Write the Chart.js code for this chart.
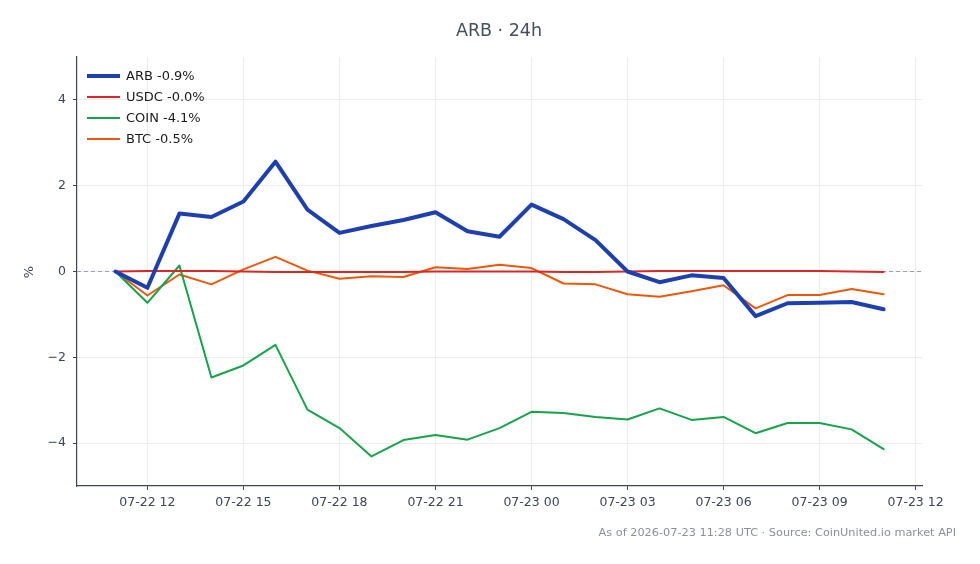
<!DOCTYPE html>
<html>
<head>
<meta charset="utf-8">
<script src="https://cdn.jsdelivr.net/npm/chart.js@4"></script>
<style>
  html, body { margin: 0; padding: 0; background: #fff; }
  #wrap { width: 980px; height: 564px; position: relative; }
</style>
</head>
<body>
<div id="wrap"><canvas id="perfChart"></canvas></div>
<script>
// hours since 07-22 00:00 UTC
const hours = [11, 12, 13, 14, 15, 16, 17, 18, 19, 20, 21, 22, 23, 24, 25, 26, 27, 28, 29, 30, 31, 32, 33, 34, 35];

const arb  = [0, -0.38, 1.35, 1.27, 1.63, 2.56, 1.44, 0.90, 1.06, 1.20, 1.38, 0.94, 0.81, 1.56, 1.22, 0.73, 0.00, -0.25, -0.09, -0.15, -1.04, -0.74, -0.73, -0.71, -0.88];
const usdc = [0, 0.01, 0.01, 0.01, 0.00, -0.01, -0.01, -0.01, -0.01, -0.01, 0.00, 0.00, 0.00, 0.00, -0.01, -0.01, 0.00, 0.01, 0.01, 0.01, 0.01, 0.01, 0.01, 0.00, -0.01];
const coin = [0, -0.73, 0.14, -2.47, -2.19, -1.71, -3.22, -3.65, -4.31, -3.93, -3.81, -3.92, -3.65, -3.27, -3.30, -3.39, -3.45, -3.19, -3.46, -3.39, -3.77, -3.53, -3.53, -3.68, -4.14];
const btc  = [0, -0.56, -0.07, -0.30, 0.05, 0.34, 0.02, -0.17, -0.11, -0.13, 0.10, 0.06, 0.16, 0.08, -0.28, -0.30, -0.53, -0.59, -0.46, -0.32, -0.86, -0.55, -0.55, -0.41, -0.53];

const seriesLabels = ['ARB -0.9%', 'USDC -0.0%', 'COIN -4.1%', 'BTC -0.5%'];

const xTickHours = [12, 15, 18, 21, 24, 27, 30, 33, 36];
const xTickLabels = ['07-22 12', '07-22 15', '07-22 18', '07-22 21', '07-23 00', '07-23 03', '07-23 06', '07-23 09', '07-23 12'];
const yTicks = [-4, -2, 0, 2, 4];

const FONT = "'DejaVu Sans', sans-serif";
const AXIS = '#3d4654';

function pts(vals) {
    return vals.map((v, i) => ({ x: hours[i], y: v }));
}

// title, footer, zero line and in-plot legend
const decor = {
    id: 'decor',
    beforeDatasetsDraw(chart) {
        const { ctx, chartArea, scales } = chart;
        const y0 = scales.y.getPixelForValue(0);
        ctx.save();
        ctx.strokeStyle = '#9aa1b2';
        ctx.lineWidth = 1;
        ctx.setLineDash([4, 3]);
        ctx.beginPath();
        ctx.moveTo(chartArea.left, y0);
        ctx.lineTo(chartArea.right, y0);
        ctx.stroke();
        ctx.restore();
    },
    afterDraw(chart) {
        const { ctx } = chart;
        ctx.save();
        ctx.fillStyle = '#454f5e';
        ctx.font = '17.5px ' + FONT;
        ctx.textAlign = 'center';
        ctx.textBaseline = 'middle';
        ctx.fillText('ARB · 24h', 499, 31);

        ctx.fillStyle = '#8a8f99';
        ctx.font = '11.3px ' + FONT;
        ctx.textAlign = 'right';
        ctx.fillText('As of 2026-07-23 11:28 UTC · Source: CoinUnited.io market API', 956, 533);

        ctx.fillStyle = AXIS;
        ctx.font = '13px ' + FONT;
        ctx.translate(30, 272);
        ctx.rotate(-Math.PI / 2);
        ctx.textAlign = 'center';
        ctx.fillText('%', 0, 0);
        ctx.restore();

        ctx.save();
        ctx.font = '13px ' + FONT;
        ctx.textBaseline = 'middle';
        chart.data.datasets.forEach((ds, i) => {
            const y = 76 + i * 21;
            ctx.strokeStyle = ds.borderColor;
            ctx.lineWidth = ds.borderWidth;
            ctx.beginPath();
            ctx.moveTo(87, y);
            ctx.lineTo(120, y);
            ctx.stroke();
            ctx.fillStyle = '#1a1a1a';
            ctx.fillText(ds.label, 126, y + 1);
        });
        ctx.restore();
    }
};

new Chart(document.getElementById('perfChart'), {
    type: 'line',
    data: {
        datasets: [
            { label: seriesLabels[0], data: pts(arb),  borderColor: '#1e40af', borderWidth: 4 },
            { label: seriesLabels[1], data: pts(usdc), borderColor: '#dc2626', borderWidth: 2 },
            { label: seriesLabels[2], data: pts(coin), borderColor: '#16a34a', borderWidth: 2 },
            { label: seriesLabels[3], data: pts(btc),  borderColor: '#ea580c', borderWidth: 2 }
        ]
    },
    options: {
        responsive: true,
        maintainAspectRatio: false,
        animation: false,
        layout: { padding: { top: 57, right: 58, left: 0, bottom: 0 } },
        elements: {
            point: { radius: 0 },
            line: { tension: 0, borderJoinStyle: 'round', borderCapStyle: 'round' }
        },
        plugins: {
            legend: { display: false },
            tooltip: { enabled: false }
        },
        scales: {
            x: {
                type: 'linear',
                min: 9.8,
                max: 36.2,
                afterBuildTicks: axis => { axis.ticks = xTickHours.map(v => ({ value: v })); },
                afterFit: axis => { axis.height = 78; },
                ticks: {
                    callback: v => xTickLabels[xTickHours.indexOf(v)],
                    color: AXIS,
                    font: { family: FONT, size: 12.5 },
                    padding: 5,
                    maxRotation: 0,
                    autoSkip: false
                },
                grid: { color: '#ececf0', tickLength: 4, tickColor: AXIS },
                border: { display: true, color: AXIS, width: 1.2 }
            },
            y: {
                min: -5,
                max: 5,
                afterBuildTicks: axis => { axis.ticks = yTicks.map(v => ({ value: v })); },
                afterFit: axis => { axis.width = 77; },
                ticks: {
                    callback: v => String(v).replace('-', '\u2212'),
                    color: AXIS,
                    font: { family: FONT, size: 12.5 },
                    padding: 7
                },
                grid: { color: '#ececf0', tickLength: 4, tickColor: AXIS },
                border: { display: true, color: AXIS, width: 1.2 }
            }
        }
    },
    plugins: [decor]
});
</script>
</body>
</html>
